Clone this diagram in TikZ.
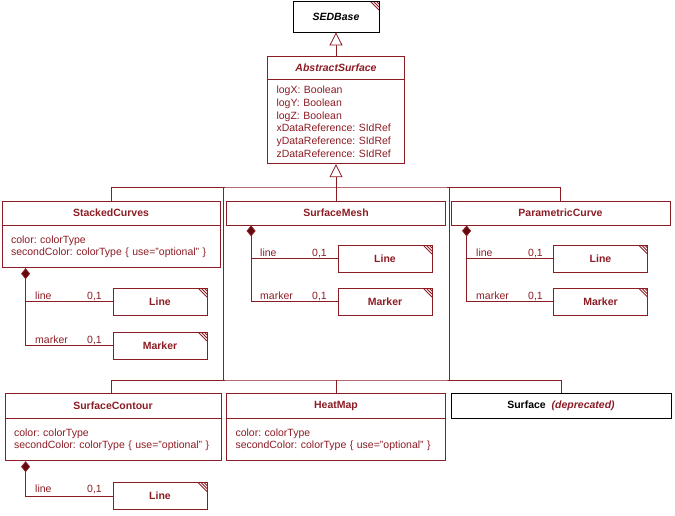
\documentclass[tikz,border=0pt]{standalone}
\usepackage{fontspec}
\setmainfont{Liberation Sans}
\usetikzlibrary{arrows.meta}
\definecolor{umlred}{RGB}{140,28,36}
\definecolor{umlfill}{RGB}{100,8,16}
\frenchspacing

\begin{document}
\begin{tikzpicture}[x=1pt,y=-1pt,
  txt/.style={font=\fontsize{10.5}{12.8}\selectfont},
  every node/.style={txt, inner sep=0pt},
  hatch/.style={path picture={
    \foreach \d in {3,6,9}
      \draw[umlred, line width=0.9pt]
        ([xshift=-\d pt]path picture bounding box.north east) --
        ([yshift=-\d pt]path picture bounding box.north east);}},
  cls/.style={draw=umlred, line width=0.8pt, text=umlred,
    font=\fontsize{10.5}{12.8}\selectfont\bfseries},
  attrs/.style={draw=umlred, line width=0.8pt, text=umlred, anchor=north west,
    align=left, inner xsep=9pt, inner ysep=0pt},
  ref/.style={cls, hatch, minimum width=94pt, minimum height=27pt},
  lbl/.style={txt, text=umlred},
  conn/.style={draw=umlred, line width=0.8pt},
  comp/.style={conn, {Diamond[length=11pt,width=9pt,fill=umlfill]}-},
  gen/.style={conn, -{Triangle[open,length=13pt,width=13pt,fill=white]}}
]
\useasboundingbox (0,0) rectangle (675,515);

% base classes
\node[cls, draw=black, text=black, hatch, minimum width=86pt, minimum height=31pt,
  font=\fontsize{10.5}{12.8}\selectfont\bfseries\itshape] (sed) at (336,16.5) {SEDBase};
\node[cls, minimum width=137pt, minimum height=23pt,
  font=\fontsize{10.5}{12.8}\selectfont\bfseries\itshape] (as) at (336,67.5) {AbstractSurface};
\node[attrs, text width=119pt, minimum height=84pt] (asA) at (as.south west)
  {logX: Boolean\\logY: Boolean\\logZ: Boolean\\xDataReference: SIdRef\\yDataReference: SIdRef\\zDataReference: SIdRef};

% first row of subclasses
\node[cls, minimum width=218pt, minimum height=24pt] (sc) at (111,213) {StackedCurves};
\node[attrs, text width=200pt, minimum height=42pt] (scA) at (sc.south west)
  {color: colorType\\secondColor: colorType \{ use="optional" \}};
\node[cls, minimum width=219pt, minimum height=24pt] (sm) at (336,213) {SurfaceMesh};
\node[cls, minimum width=219pt, minimum height=24pt] (pc) at (560.5,213) {ParametricCurve};

% second row of subclasses
\node[cls, minimum width=216pt, minimum height=25pt] (so) at (113,405.5) {SurfaceContour};
\node[attrs, text width=198pt, minimum height=42pt] (soA) at (so.south west)
  {color: colorType\\secondColor: colorType \{ use="optional" \}};
\node[cls, minimum width=219pt, minimum height=25pt] (hm) at (336,405.5) {HeatMap};
\node[attrs, text width=201pt, minimum height=42pt] (hmA) at (hm.south west)
  {color: colorType\\secondColor: colorType \{ use="optional" \}};
\node[cls, draw=black, text=black, minimum width=220pt, minimum height=25pt] (sf) at (561,405.5)
  {Surface\hspace{3pt} \textcolor{umlred}{\itshape(deprecated)}};

% referenced classes
\node[ref] (scL) at (160,301.5) {Line};
\node[ref] (scM) at (160,345.5) {Marker};
\node[ref] (smL) at (385,258.5) {Line};
\node[ref] (smM) at (385,301.5) {Marker};
\node[ref] (pcL) at (600.5,258.5) {Line};
\node[ref] (pcM) at (600.5,301.5) {Marker};
\node[ref] (soL) at (160,496) {Line};

% generalisation tree
\coordinate (hub1) at (336,187);
\coordinate (hub2) at (336,380);
\coordinate (jL1) at (223,187);
\coordinate (jL2) at (223,380);
\coordinate (jR1) at (449,187);
\coordinate (jR2) at (449,380);
\draw[gen] (as.north) -- (sed.south);
\draw[conn] (sc.north) |- (hub1) -| (pc.north);
\draw[conn] (sm.north) -- (sm.north |- hub1);
\draw[gen] (hub1) -- (asA.south);
\draw[conn] (jL1) -- (jL2);
\draw[conn] (jR1) -- (jR2);
\draw[conn] (sc.north |- so.north) |- (hub2) -| (sf.north);
\draw[conn] (hm.north) -- (hm.north |- hub2);

% compositions
\draw[conn] ([xshift=24pt]scA.south west) |- (scM.west);
\draw[comp] ([xshift=24pt]scA.south west) |- (scL.west);
\draw[conn] ([xshift=25pt]sm.south west) |- (smM.west);
\draw[comp] ([xshift=25pt]sm.south west) |- (smL.west);
\draw[conn] ([xshift=16pt]pc.south west) |- (pcM.west);
\draw[comp] ([xshift=16pt]pc.south west) |- (pcL.west);
\draw[comp] ([xshift=21pt]soA.south west) |- (soL.west);

% role names and multiplicities
\node[lbl, anchor=base west] (l1) at (35,299) {line};
\node[lbl, anchor=base east] (m1) at (102,299) {0,1};
\node[lbl, anchor=base west] (l2) at (35,343) {marker};
\node[lbl, anchor=base east] (m2) at (102,343) {0,1};
\node[lbl, anchor=base west] (l3) at (260,256) {line};
\node[lbl, anchor=base east] (m3) at (327,256) {0,1};
\node[lbl, anchor=base west] (l4) at (260,299) {marker};
\node[lbl, anchor=base east] (m4) at (327,299) {0,1};
\node[lbl, anchor=base west] (l5) at (476,256) {line};
\node[lbl, anchor=base east] (m5) at (543,256) {0,1};
\node[lbl, anchor=base west] (l6) at (476,299) {marker};
\node[lbl, anchor=base east] (m6) at (543,299) {0,1};
\node[lbl, anchor=base west] (l7) at (35,492) {line};
\node[lbl, anchor=base east] (m7) at (102,492) {0,1};
\end{tikzpicture}
\end{document}
